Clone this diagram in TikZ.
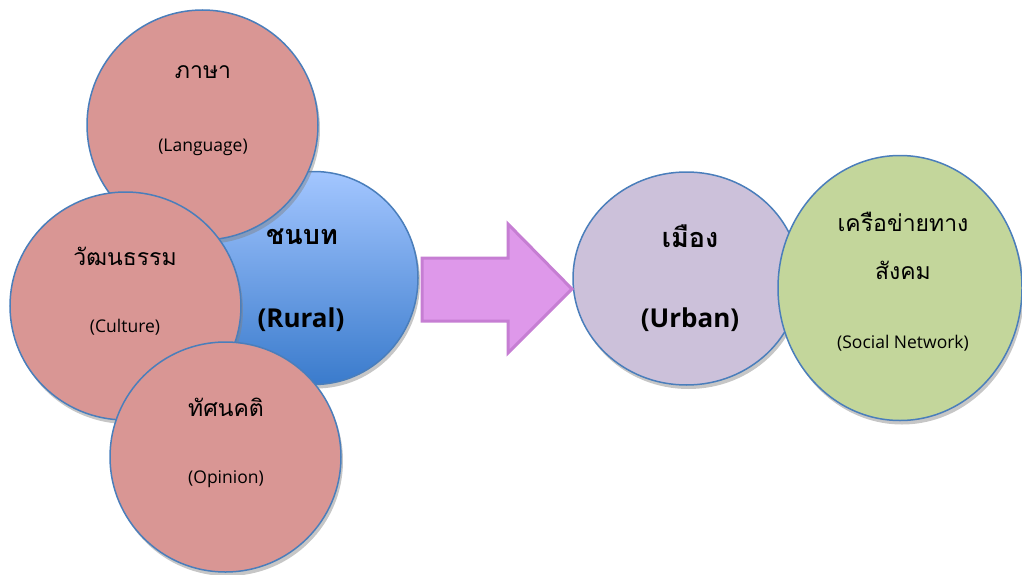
\documentclass[tikz,border=0pt]{standalone}
\usepackage{fontspec}
\newfontfamily\thaifont[Script=Thai]{Loma}
\newfontfamily\latinfont{Open Sans}
\usetikzlibrary{positioning}
\usetikzlibrary{shapes.geometric,shadows}

\definecolor{pinkfill}{HTML}{D99694}
\definecolor{rimblue}{HTML}{4A7EBB}
\definecolor{ruraltop}{HTML}{A3C6FF}
\definecolor{ruralbot}{HTML}{3A7BCC}
\definecolor{urbanfill}{HTML}{CCC1DA}
\definecolor{socialfill}{HTML}{C3D69B}
\definecolor{arrowfill}{HTML}{DE98EA}
\definecolor{arrowrim}{HTML}{C67ED3}

\tikzset{
  blob/.style = {ellipse, draw = rimblue, line width = 1.5pt, inner sep = 0pt,
    drop shadow = {shadow xshift = 2pt, shadow yshift = -4pt, opacity = 0.45, fill = gray}},
  thailabel/.style = {font = \thaifont\fontsize{23}{25}\selectfont},
  englabel/.style = {font = \latinfont\fontsize{17.5}{19}\selectfont},
  boldlabel/.style = {font = \thaifont\bfseries\fontsize{27}{29}\selectfont},
  boldeng/.style = {font = \latinfont\bfseries\fontsize{26}{28}\selectfont}
}

\begin{document}
\begin{tikzpicture}[x = 1pt, y = -1pt]
					\useasboundingbox (0, 0) rectangle (1022, 575);
					% left group
					\node[blob, top color = ruraltop, bottom color = ruralbot, minimum width = 208pt, minimum height = 213pt] (rural) at (314, 278) {};
					\node[blob, fill = pinkfill, minimum width = 231pt, minimum height = 230pt] (language) at (202.5, 125) {};
					\node[blob, fill = pinkfill, minimum width = 231pt, minimum height = 228pt] (culture) at (125.5, 306) {};
					\node[blob, fill = pinkfill, minimum width = 231pt, minimum height = 230pt] (opinion) at (225.5, 457) {};
					% right group
					\node[blob, fill = urbanfill, minimum width = 227pt, minimum height = 213pt] (urban) at (686.5, 278.5) {};
					\node[blob, fill = socialfill, minimum width = 244pt, minimum height = 265pt] (social) at (900, 288) {};
					% arrow
					\draw[arrowrim, line width = 3pt, fill = arrowfill, line join = miter] (422, 258)--(508, 258)--(508, 224)--(572, 289)--(508, 353)--(508, 321)--(422, 321)--cycle;
					% labels
					\node[thailabel] (languageth) at (203, 72) {ภาษา};
					\node[englabel] (languageen) at (203, 147) {(Language)};
					\node[thailabel] (cultureth) at (125, 256) {วัฒนธรรม};
					\node[englabel] (cultureen) at (125, 327) {(Culture)};
					\node[thailabel] (opinionth) at (226, 407) {ทัศนคติ};
					\node[englabel] (opinionen) at (226, 479) {(Opinion)};
					\node[boldlabel] (ruralth) at (302, 237) {ชนบท};
					\node[boldeng] (ruralen) at (301, 320) {(Rural)};
					\node[boldlabel] (urbanth) at (690, 236) {เมือง};
					\node[boldeng] (urbanen) at (690, 320) {(Urban)};
					\node[thailabel] (socialth) at (903, 222) {เครือข่ายทาง};
					\node[thailabel] (socialth2) at (903, 270) {สังคม};
					\node[englabel] (socialen) at (903, 343) {(Social Network)};
				\end{tikzpicture}
\end{document}
